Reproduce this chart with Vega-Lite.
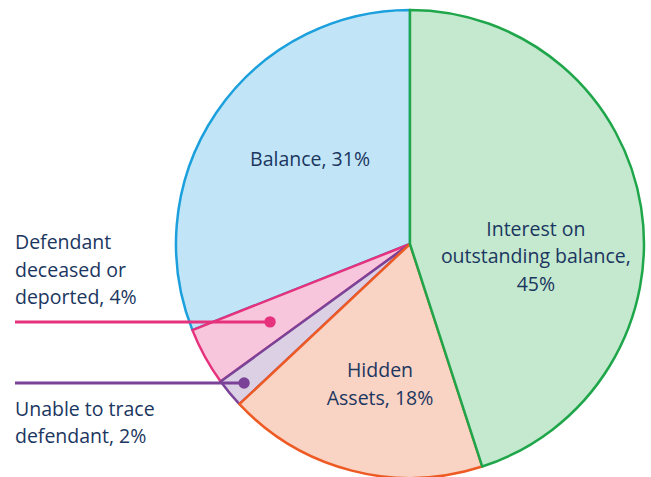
{
  "$schema": "https://vega.github.io/schema/vega-lite/v6.json",
  "width": 651,
  "height": 477,
  "padding": 0,
  "autosize": {"type": "none"},
  "background": "white",
  "config": {"view": {"stroke": null}},
  "datasets": {
    "slices": [
      {"category": "Balance", "pct": 31, "rank": 5},
      {"category": "Defendant deceased or deported", "pct": 4, "rank": 4},
      {"category": "Unable to trace defendant", "pct": 2, "rank": 3},
      {"category": "Hidden Assets", "pct": 18, "rank": 2},
      {"category": "Interest on outstanding balance", "pct": 45, "rank": 1}
    ],
    "labels": [
      {"label": ["Balance, 31%"], "x": -0.427, "y": 0.359},
      {"label": ["Interest on", "outstanding balance,", "45%"], "x": 0.538, "y": 0.06},
      {"label": ["Hidden", "Assets, 18%"], "x": -0.128, "y": -0.543}
    ],
    "sidelabels": [
      {"label": ["Defendant", "deceased or", "deported, 4%"], "x": -1.688, "y": 0.004},
      {"label": ["Unable to trace", "defendant, 2%"], "x": -1.688, "y": -0.709}
    ],
    "leaders": [
      {"category": "Defendant deceased or deported", "x": -1.688, "x2": -0.598, "y": -0.333},
      {"category": "Unable to trace defendant", "x": -1.688, "x2": -0.709, "y": -0.594}
    ]
  },
  "layer": [
    {
      "data": {"name": "slices"},
      "mark": {"type": "arc", "outerRadius": 234, "strokeWidth": 2.5, "strokeJoin": "round"},
      "encoding": {
        "theta": {"field": "pct", "type": "quantitative", "stack": true},
        "order": {"field": "rank", "type": "quantitative", "sort": "ascending"},
        "x": {"datum": 0, "type": "quantitative", "scale": {"domain": [-1.752, 1.03], "nice": false, "zero": false}, "axis": null},
        "y": {"datum": 0, "type": "quantitative", "scale": {"domain": [-0.996, 1.043], "nice": false, "zero": false}, "axis": null},
        "fill": {
          "field": "category", "type": "nominal", "legend": null,
          "scale": {
            "domain": ["Interest on outstanding balance", "Hidden Assets", "Unable to trace defendant", "Defendant deceased or deported", "Balance"],
            "range": ["#c4e9cf", "#f9d3c3", "#dcd0e4", "#f8c6dc", "#c1e5f7"]
          }
        },
        "stroke": {
          "field": "category", "type": "nominal", "legend": null,
          "scale": {
            "domain": ["Interest on outstanding balance", "Hidden Assets", "Unable to trace defendant", "Defendant deceased or deported", "Balance"],
            "range": ["#1fa64a", "#ee5a24", "#7b4397", "#e6317c", "#1ba0dd"]
          }
        }
      }
    },
    {
      "data": {"name": "leaders"},
      "mark": {"type": "rule", "strokeWidth": 3},
      "encoding": {
        "x": {"field": "x", "type": "quantitative"},
        "x2": {"field": "x2"},
        "y": {"field": "y", "type": "quantitative"},
        "color": {"field": "category", "type": "nominal", "legend": null,
          "scale": {"domain": ["Defendant deceased or deported", "Unable to trace defendant"], "range": ["#e6317c", "#7b4397"]}}
      }
    },
    {
      "data": {"name": "leaders"},
      "mark": {"type": "point", "filled": true, "opacity": 1, "size": 130},
      "encoding": {
        "x": {"field": "x2", "type": "quantitative"},
        "y": {"field": "y", "type": "quantitative"},
        "color": {"field": "category", "type": "nominal", "legend": null,
          "scale": {"domain": ["Defendant deceased or deported", "Unable to trace defendant"], "range": ["#e6317c", "#7b4397"]}}
      }
    },
    {
      "data": {"name": "labels"},
      "mark": {"type": "text", "font": "Open Sans", "fontSize": 19.5, "color": "#1b3660", "align": "center", "baseline": "middle", "lineHeight": 27.5},
      "encoding": {
        "x": {"field": "x", "type": "quantitative"},
        "y": {"field": "y", "type": "quantitative"},
        "text": {"field": "label"}
      }
    },
    {
      "data": {"name": "sidelabels"},
      "mark": {"type": "text", "font": "Open Sans", "fontSize": 19.5, "color": "#1b3660", "align": "left", "baseline": "middle", "lineHeight": 27.5},
      "encoding": {
        "x": {"field": "x", "type": "quantitative"},
        "y": {"field": "y", "type": "quantitative"},
        "text": {"field": "label"}
      }
    }
  ]
}
